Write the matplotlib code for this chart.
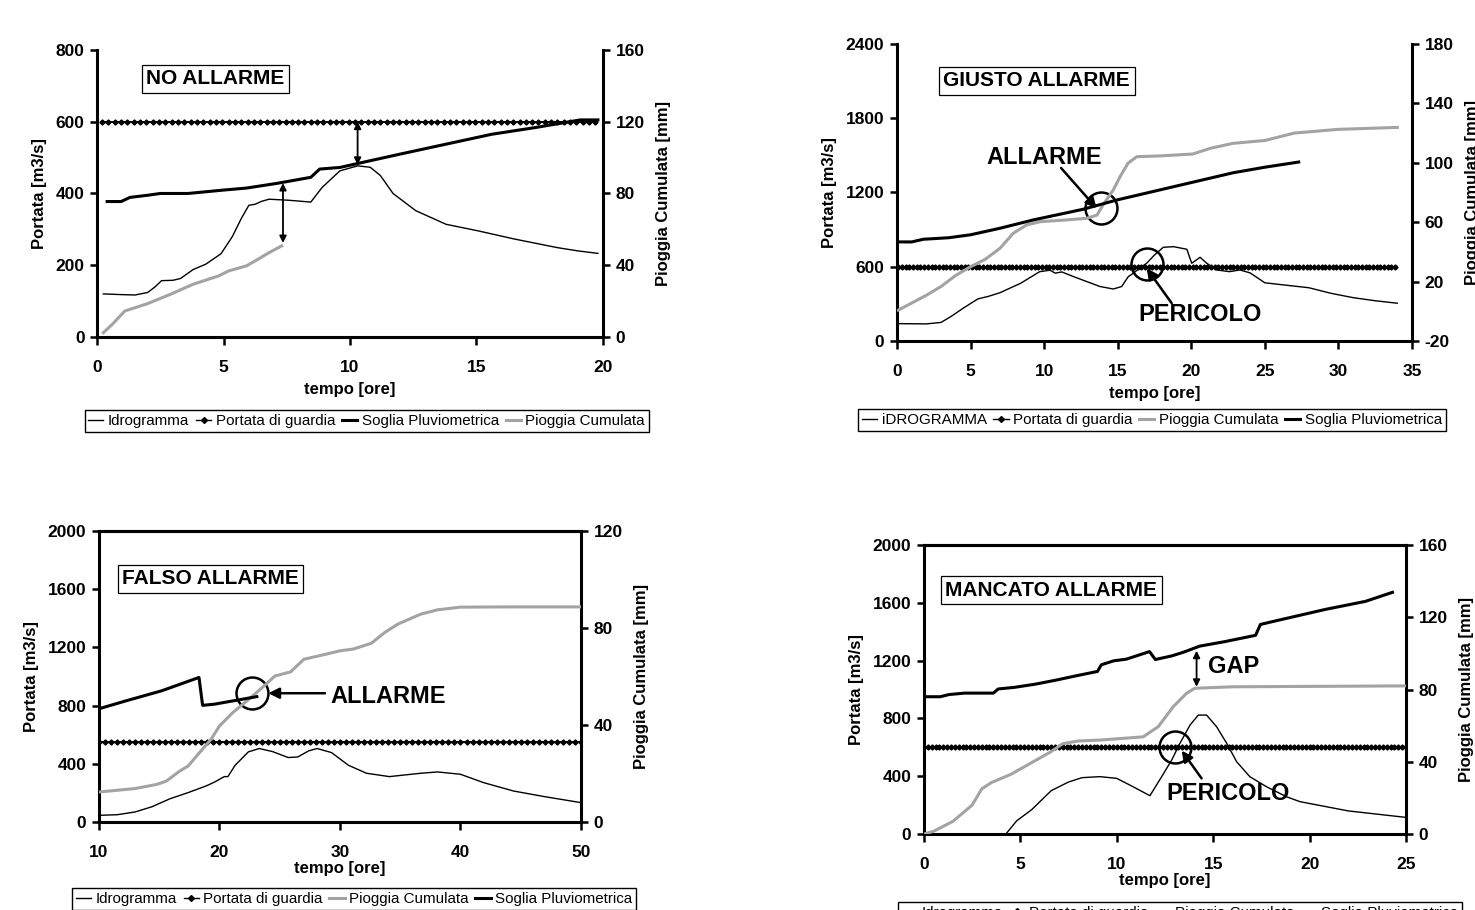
import numpy as np
import matplotlib
matplotlib.use("Agg")
import matplotlib.pyplot as plt
from matplotlib.lines import Line2D

plt.rcParams['font.family'] = ['Liberation Sans', 'DejaVu Sans']

# ---------------- DATA ----------------
# Panel 1: NO ALLARME
p1_idro_t = [0.25, 1.0, 1.5, 2.0, 2.3, 2.55, 3.0, 3.3, 3.8, 4.3, 4.9, 5.35, 5.7, 6.0, 6.25, 6.5, 6.8,
             7.6, 8.45, 8.9, 9.6, 10.3, 10.8, 11.2, 11.7, 12.6, 13.8, 15.05, 16.5, 18.2, 19.0, 19.8]
p1_idro_v = [120, 118, 117, 124, 140, 157, 158, 163, 188, 203, 232, 280, 330, 367, 370, 378, 384,
             381, 376, 417, 463, 477, 473, 450, 400, 352, 314, 296, 273, 249, 240, 233]
p1_soglia_t = [0.4, 0.95, 1.3, 2.0, 2.5, 3.6, 5.0, 5.9, 7.1, 8.45, 8.8, 9.6, 10.3, 12.0, 13.8, 15.6,
               17.35, 19.1, 19.8]
p1_soglia_v = [75.5, 75.5, 77.8, 79, 80, 80, 81.9, 83, 85.6, 89, 93.6, 94.5, 96.7, 102, 107.5, 113,
               116.8, 121, 121]
p1_pioggia_t = [0.25, 0.6, 1.1, 2.0, 2.9, 3.8, 4.8, 5.2, 5.9, 6.25, 6.8, 7.3]
p1_pioggia_v = [2.4, 7, 14.5, 18.6, 23.8, 29.4, 34, 36.8, 39.6, 42.4, 47, 50.8]
p1_guardia = 600
p1_guardia_span = (0.2, 19.9, 0.25)

# Panel 2: GIUSTO ALLARME
p2_idro_t = [0.1, 2.0, 3.0, 3.7, 4.5, 5.5, 6.2, 7.0, 8.4, 9.7, 10.4, 10.75, 11.2, 12.0, 12.9, 13.8,
             14.7, 15.27, 15.72, 16.06, 16.5, 16.97, 17.5, 18.1, 18.8, 19.7, 20.03, 20.6, 21.05,
             21.73, 22.6, 23.3, 24.0, 25.0, 26.5, 28.0, 29.5, 31.0, 32.5, 34.0]
p2_idro_v = [140, 138, 150, 200, 265, 340, 360, 390, 466, 560, 572, 548, 558, 520, 480, 440,
             420, 440, 520, 547, 590, 628, 695, 757, 762, 741, 628, 676, 628,
             574, 560, 574, 550, 470, 450, 430, 385, 350, 325, 305]
p2_pioggia_t = [0.1, 2.0, 3.0, 4.0, 5.0, 6.0, 7.0, 7.9, 8.8, 9.72, 11.5, 12.9, 13.6, 14.0, 14.7,
                15.16, 15.7, 16.3, 17.87, 20.1, 21.3, 22.86, 25.0, 27.0, 30.0, 34.0]
p2_pioggia_v = [0.8, 10.8, 16.7, 24.2, 30, 35, 42.4, 52.5, 58.1, 60.3, 61.5, 62.6, 64.8, 71.6, 81.7,
                90.6, 99.7, 104.1, 104.6, 105.9, 109.75, 113.1, 115, 120, 122.5, 123.8]
p2_soglia_t = [0.1, 1.0, 1.8, 3.5, 5.0, 7.0, 9.26, 12.66, 14.93, 18.33, 22.86, 25.0, 27.3]
p2_soglia_v = [46.7, 46.7, 48.5, 49.5, 51.5, 55.9, 61.5, 68.7, 74.9, 82.8, 93.3, 97, 100.5]
p2_guardia = 600
p2_guardia_span = (0.1, 34.0, 0.25)

# Panel 3: FALSO ALLARME
p3_idro_t = [10.07, 11.5, 13.0, 14.4, 15.9, 17.4, 18.9, 19.6, 20.4, 20.7, 21.3, 22.4, 23.3, 24.4,
             25.7, 26.5, 27.4, 28.1, 29.3, 30.7, 32.2, 34.1, 36.7, 38.1, 40.0, 41.9, 44.4, 47.0, 50.0]
p3_idro_v = [46, 50, 69, 105, 160, 202, 248, 275, 312, 312, 390, 482, 505, 484,
             443, 447, 489, 505, 477, 390, 335, 312, 335, 344, 328, 271, 213, 174, 133]
p3_pioggia_t = [10.07, 13.0, 14.8, 15.6, 16.7, 17.4, 18.1, 19.3, 20.0, 21.1, 22.6, 23.7, 24.6,
                25.9, 27.0, 28.5, 30.0, 31.1, 32.6, 33.7, 34.8, 36.7, 38.1, 40.0, 44.4, 50.0]
p3_pioggia_v = [12.4, 13.8, 15.5, 16.9, 21, 23.1, 27.2, 34.1, 39.6, 45.1, 51.3, 56.1, 60.2,
                61.9, 67.1, 68.8, 70.6, 71.3, 73.7, 78.1, 81.6, 85.7, 87.5, 88.6, 88.7, 88.7]
p3_soglia_t = [10.07, 12.2, 15.2, 18.3, 18.6, 19.6, 23.1]
p3_soglia_v = [46.8, 49.9, 54.1, 59.6, 48.1, 48.6, 51.7]
p3_guardia = 550
p3_guardia_span = (10.0, 50.0, 0.5)

# Panel 4: MANCATO ALLARME
p4_idro_t = [4.25, 4.8, 5.6, 6.6, 7.5, 8.2, 9.13, 10.0, 10.85, 11.72, 12.33, 12.85, 13.28, 13.8,
             14.23, 14.66, 15.18, 15.7, 16.22, 16.9, 17.77, 18.8, 19.5, 22.0, 25.0]
p4_idro_v = [0, 90, 170, 300, 360, 390, 397, 385, 327, 265, 397, 512, 628, 754,
             823, 823, 742, 628, 500, 397, 327, 258, 224, 160, 115]
p4_pioggia_t = [0.0, 0.5, 1.5, 2.5, 3.0, 3.5, 4.5, 5.5, 6.5, 7.2, 8.0, 9.13, 11.37, 12.15, 12.93,
                13.62, 14.05, 16.04, 19.5, 25.0]
p4_pioggia_v = [0, 1.5, 7, 16, 25, 28.5, 33, 39, 45, 50, 51.5, 52, 53.8, 59.4, 70.5,
                77.9, 80.7, 81.5, 81.7, 82]
p4_soglia_t = [0, 0.85, 1.3, 2.1, 3.6, 3.85, 4.7, 5.8, 6.85, 7.9, 9.0, 9.2, 9.85, 10.5, 11.7, 12.0,
               12.85, 13.45, 14.3, 15.6, 17.2, 17.45, 18.2, 20.8, 22.9, 24.3]
p4_soglia_v = [76, 76, 77.2, 78, 78, 80.3, 81.2, 83, 85.2, 87.6, 90, 93.7, 95.9, 96.8, 101, 96.6,
               98.6, 100.6, 104, 106.5, 110, 116, 117.9, 124.3, 128.8, 133.8]
p4_guardia = 600
p4_guardia_span = (0.0, 25.0, 0.2)

legend_labels_1 = ["Idrogramma", "Portata di guardia", "Soglia Pluviometrica", "Pioggia Cumulata"]
legend_labels_2 = ["iDROGRAMMA", "Portata di guardia", "Pioggia Cumulata", "Soglia Pluviometrica"]
legend_labels_3 = ["Idrogramma", "Portata di guardia", "Pioggia Cumulata", "Soglia Pluviometrica"]
legend_labels_4 = ["Idrogramma", "Portata di guardia", "Pioggia Cumulata", "Soglia Pluviometrica"]

GRAY = '#a3a3a3'
TICK_FS = 12.5
LABEL_FS = 12

fig = plt.figure(figsize=(14.75, 9.10), dpi=100)


def make_panel(rect, xlim, xticks, ylim_l, yticks_l, ylim_r, yticks_r, top_spine,
               idro, guardia, guardia_span, soglia, pioggia, title, title_pos, xlabelpad):
    ax = fig.add_axes(rect)
    ax2 = ax.twinx()
    ax.set_xlim(*xlim)
    ax.set_ylim(*ylim_l)
    ax2.set_ylim(*ylim_r)
    ax.set_xticks(xticks)
    ax.set_xticklabels([str(t) for t in xticks], fontweight='bold', fontsize=TICK_FS)
    ax.set_yticks(yticks_l)
    ax.set_yticklabels([str(t) for t in yticks_l], fontweight='bold', fontsize=TICK_FS)
    ax2.set_yticks(yticks_r)
    ax2.set_yticklabels([str(t) for t in yticks_r], fontweight='bold', fontsize=TICK_FS)
    for a in (ax, ax2):
        a.tick_params(direction='out', length=5, width=1.8, pad=4)
        for s in a.spines.values():
            s.set_linewidth(2.2)
    ax.tick_params(axis='x', length=6, pad=10.5)
    ax.spines['right'].set_visible(False)
    ax2.spines['left'].set_visible(False)
    ax2.spines['bottom'].set_visible(False)
    ax.spines['top'].set_visible(top_spine)
    ax2.spines['top'].set_visible(top_spine)
    ax.set_xlabel("tempo [ore]", fontweight='bold', fontsize=LABEL_FS, labelpad=xlabelpad)
    ax.set_ylabel("Portata [m3/s]", fontweight='bold', fontsize=LABEL_FS, labelpad=6)
    ax2.set_ylabel("Pioggia Cumulata [mm]", fontweight='bold', fontsize=LABEL_FS, labelpad=8)

    ax.plot(idro[0], idro[1], color='black', lw=1.0, zorder=3)
    gt = np.arange(guardia_span[0], guardia_span[1] + 1e-9, guardia_span[2])
    ax.plot(gt, np.full(gt.shape, guardia), color='black', lw=1.4, marker='D', markersize=2.6,
            zorder=3)
    ax2.plot(soglia[0], soglia[1], color='black', lw=2.2, zorder=4)
    ax2.plot(pioggia[0], pioggia[1], color=GRAY, lw=2.2, zorder=3)

    ax.text(title_pos[0], title_pos[1], title, transform=ax.transAxes, fontsize=15,
            fontweight='bold', va='center', ha='left', zorder=6,
            bbox=dict(boxstyle='square,pad=0.22', fc='white', ec='black', lw=0.9))
    return ax, ax2


def legend(handles_order, labels, anchor, loc):
    leg = fig.legend(handles_order, labels, loc=loc, bbox_to_anchor=anchor, ncol=4,
                     frameon=True, fancybox=False, edgecolor='black', framealpha=1,
                     fontsize=10.9, handlelength=1.0, handletextpad=0.3, columnspacing=0.45,
                     borderpad=0.25, borderaxespad=0)
    leg.get_frame().set_linewidth(1.0)
    return leg


h_idro = Line2D([], [], color='black', lw=1.0)
h_guard = Line2D([], [], color='black', lw=1.0, marker='D', markersize=3)
h_sog = Line2D([], [], color='black', lw=2.2)
h_pio = Line2D([], [], color=GRAY, lw=2.2)


def circle(ax, x, y):
    ax.plot([x], [y], marker='o', markersize=23, mfc='none', mec='black', mew=1.8, zorder=7)


def arrow(ax, tail, head, lw=1.8, style='-|>', ms=16):
    ax.annotate('', xy=head, xytext=tail,
                arrowprops=dict(arrowstyle=style, color='black', lw=lw, mutation_scale=ms,
                                shrinkA=0, shrinkB=0), zorder=7)


# Panel 1
ax, ax2 = make_panel([0.0658, 0.6297, 0.343, 0.3154], (0, 20), [0, 5, 10, 15, 20],
                     (0, 800), [0, 200, 400, 600, 800], (0, 160), [0, 40, 80, 120, 160], False,
                     (p1_idro_t, p1_idro_v), p1_guardia, p1_guardia_span,
                     (p1_soglia_t, p1_soglia_v), (p1_pioggia_t, p1_pioggia_v),
                     "NO ALLARME", (0.097, 0.899), 5)
arrow(ax, (10.3, 480), (10.3, 600), lw=1.3, style='<|-|>', ms=10)
arrow(ax, (7.35, 262), (7.35, 429), lw=1.3, style='<|-|>', ms=10)
legend([h_idro, h_guard, h_sog, h_pio], legend_labels_1, (0.2485, 0.5374), 'center')

# Panel 2
ax, ax2 = make_panel([0.6081, 0.6253, 0.3492, 0.3264], (0, 35), [0, 5, 10, 15, 20, 25, 30, 35],
                     (0, 2400), [0, 600, 1200, 1800, 2400], (-20, 180), [-20, 20, 60, 100, 140, 180],
                     False,
                     (p2_idro_t, p2_idro_v), p2_guardia, p2_guardia_span,
                     (p2_soglia_t, p2_soglia_v), (p2_pioggia_t, p2_pioggia_v),
                     "GIUSTO ALLARME", (0.09, 0.876), 5)
circle(ax, 13.85, 1075)
circle(ax, 16.97, 620)
arrow(ax, (11.15, 1398), (13.57, 1072))
arrow(ax, (18.67, 305), (16.97, 587))
ax.text(9.99, 1480, "ALLARME", fontsize=17, fontweight='bold', ha='center', va='center', zorder=7)
ax.text(16.4, 212, "PERICOLO", fontsize=17, fontweight='bold', ha='left', va='center', zorder=7)
legend([h_idro, h_guard, h_pio, h_sog], legend_labels_2, (0.781, 0.5385), 'center')

# Panel 3
ax, ax2 = make_panel([0.0671, 0.0967, 0.3268, 0.3198], (10, 50), [10, 20, 30, 40, 50],
                     (0, 2000), [0, 400, 800, 1200, 1600, 2000], (0, 120), [0, 40, 80, 120], True,
                     (p3_idro_t, p3_idro_v), p3_guardia, p3_guardia_span,
                     (p3_soglia_t, p3_soglia_v), (p3_pioggia_t, p3_pioggia_v),
                     "FALSO ALLARME", (0.048, 0.836), 1)
circle(ax, 22.67, 885)
arrow(ax, (28.75, 885), (24.05, 885))
ax.text(29.17, 861, "ALLARME", fontsize=17, fontweight='bold', ha='left', va='center', zorder=7)
legend([h_idro, h_guard, h_pio, h_sog], legend_labels_3, (0.24, 0.0121), 'center')

# Panel 4
ax, ax2 = make_panel([0.6264, 0.0835, 0.3268, 0.3176], (0, 25), [0, 5, 10, 15, 20, 25],
                     (0, 2000), [0, 400, 800, 1200, 1600, 2000], (0, 160), [0, 40, 80, 120, 160],
                     True,
                     (p4_idro_t, p4_idro_v), p4_guardia, p4_guardia_span,
                     (p4_soglia_t, p4_soglia_v), (p4_pioggia_t, p4_pioggia_v),
                     "MANCATO ALLARME", (0.044, 0.844), 1)
circle(ax, 13.02, 600)
arrow(ax, (14.4, 385), (13.37, 577))
arrow(ax, (14.14, 1019), (14.14, 1268), lw=1.3, style='<|-|>', ms=10)
ax.text(14.75, 1158, "GAP", fontsize=17, fontweight='bold', ha='left', va='center', zorder=7)
ax.text(12.55, 282, "PERICOLO", fontsize=17, fontweight='bold', ha='left', va='center', zorder=7)
legend([h_idro, h_guard, h_pio, h_sog], legend_labels_4, (0.8, 0.0088), 'upper center')

fig.savefig("out.png", dpi=100)
